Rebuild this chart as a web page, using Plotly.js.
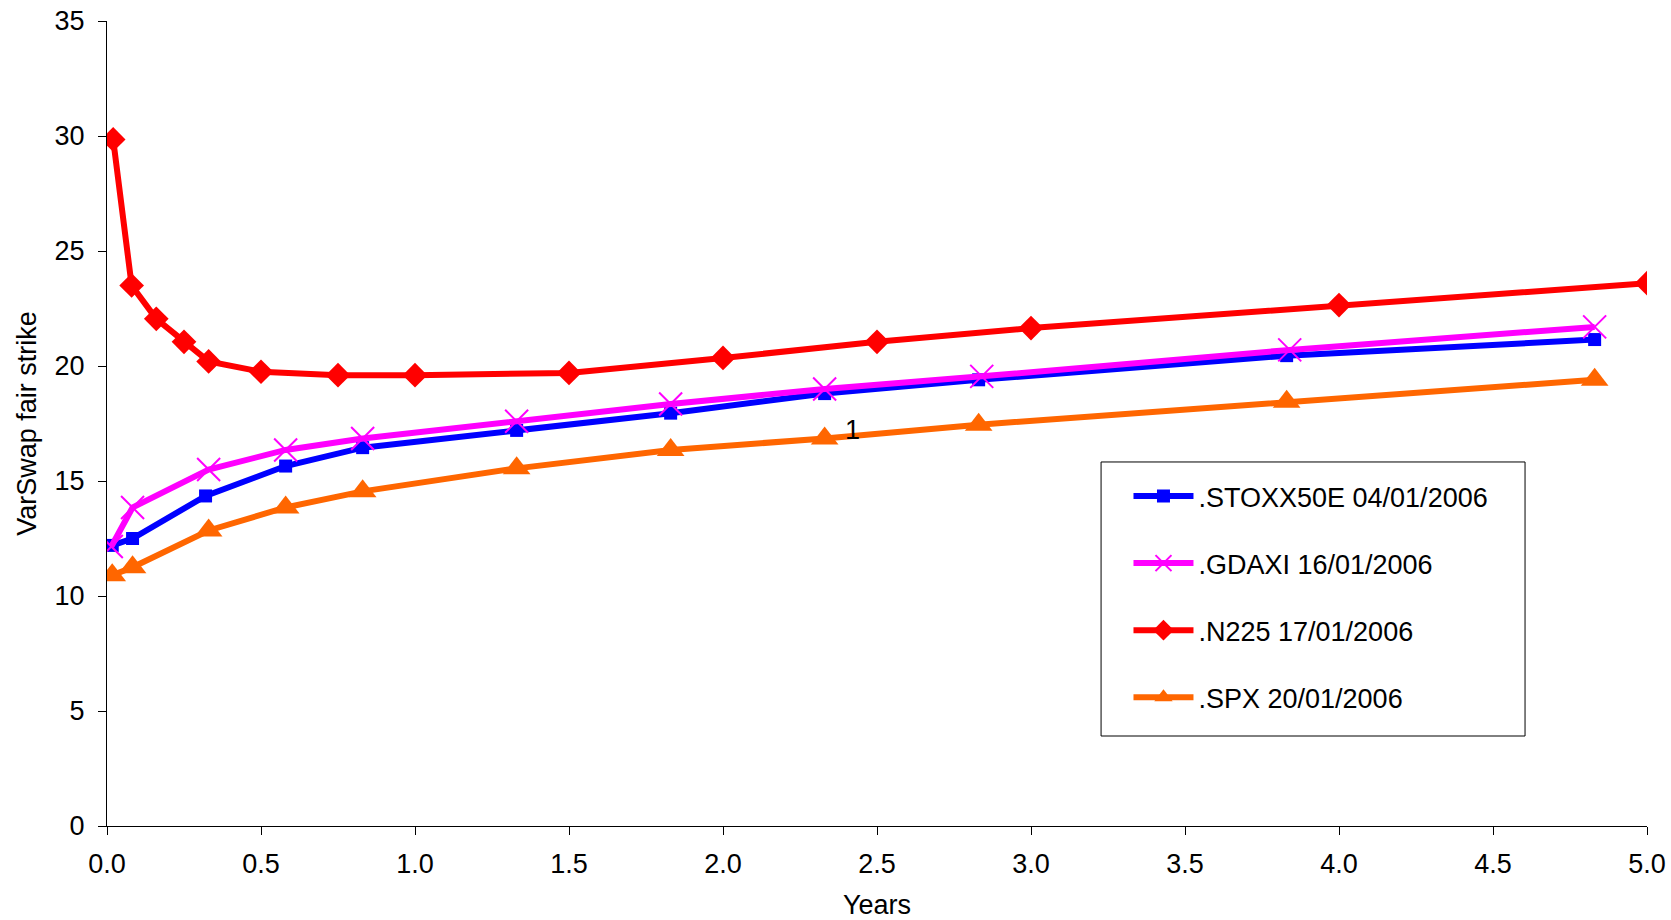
<!DOCTYPE html>
<html>
<head>
<meta charset="utf-8">
<script src="https://cdn.plot.ly/plotly-3.0.1.min.js"></script>
<style>html,body{margin:0;padding:0;background:#fff;}#chart{width:1671px;height:920px;}</style>
</head>
<body>
<div id="chart"></div>
<script>
var stoxxX = [0.017, 0.083, 0.32, 0.58, 0.83, 1.33, 1.83, 2.33, 2.83, 3.83, 4.83];
var stoxxY = [12.2, 12.5, 14.35, 15.65, 16.45, 17.2, 17.95, 18.8, 19.4, 20.45, 21.15];
var gdaxiX = [0.014, 0.083, 0.33, 0.58, 0.83, 1.33, 1.83, 2.33, 2.84, 3.84, 4.83];
var gdaxiY = [12.15, 13.85, 15.5, 16.35, 16.85, 17.6, 18.35, 19.0, 19.55, 20.7, 21.7];
var n225X = [0.02, 0.08, 0.16, 0.25, 0.33, 0.5, 0.75, 1.0, 1.5, 2.0, 2.5, 3.0, 4.0, 5.0];
var n225Y = [29.85, 23.5, 22.05, 21.05, 20.2, 19.75, 19.6, 19.6, 19.7, 20.35, 21.05, 21.65, 22.65, 23.6];
var spxX = [0.017, 0.083, 0.33, 0.58, 0.83, 1.33, 1.83, 2.33, 2.83, 3.83, 4.83];
var spxY = [10.9, 11.25, 12.85, 13.85, 14.55, 15.55, 16.35, 16.85, 17.45, 18.45, 19.4];
var seriesNames = ['.STOXX50E 04/01/2006', '.GDAXI 16/01/2006', '.N225 17/01/2006', '.SPX 20/01/2006'];
var xTitle = 'Years';
var yTitle = 'VarSwap fair strike';
var noteText = '1';
var noteX = 2.42, noteY = 17.2;

var font = 'Liberation Sans, Arial, sans-serif';
var traces = [
  {x: stoxxX, y: stoxxY, name: seriesNames[0], mode: 'lines+markers', legendgroup: 'a',
   line: {color: '#0000FF', width: 6}, marker: {symbol: 'square', size: 13, color: '#0000FF'}},
  {x: gdaxiX, y: gdaxiY, name: seriesNames[1], mode: 'lines+markers', legendgroup: 'b',
   line: {color: '#FF00FF', width: 6}, marker: {symbol: 'x-thin', size: 23, color: '#FF00FF', line: {color: '#FF00FF', width: 2}}},
  {x: n225X, y: n225Y, name: seriesNames[2], mode: 'lines+markers', legendgroup: 'c',
   line: {color: '#FF0000', width: 6}, marker: {symbol: 'diamond', size: 19, color: '#FF0000'}},
  {x: spxX, y: spxY, name: seriesNames[3], mode: 'lines+markers', legendgroup: 'd',
   line: {color: '#FF6600', width: 6}, marker: {symbol: 'triangle-up', size: 24, color: '#FF6600'}}
];

var layout = {
  width: 1671, height: 920,
  paper_bgcolor: '#fff', plot_bgcolor: '#fff',
  margin: {l: 107, r: 24, t: 21, b: 94},
  font: {family: font, size: 27, color: '#000'},
  showlegend: true,
  legend: {x: 0.6633, y: 0.4398, xanchor: 'left', yanchor: 'top',
    borderwidth: 0, bgcolor: 'rgba(0,0,0,0)',
    font: {family: font, size: 27, color: '#000'},
    traceorder: 'grouped', tracegroupgap: 29, itemwidth: 60},
  shapes: [{type: 'rect', xref: 'paper', yref: 'paper', x0: 0.6455, x1: 0.9208, y0: 0.1118, y1: 0.4522,
    line: {color: '#000', width: 1}, fillcolor: '#fff', layer: 'below'}],
  xaxis: {range: [0, 5], dtick: 0.5, tick0: 0, tickformat: '.1f',
    showgrid: false, zeroline: false, showline: true, linecolor: '#000', linewidth: 1,
    ticks: 'outside', ticklen: 8, tickcolor: '#000', ticklabelstandoff: 6,
    tickfont: {family: font, size: 27},
    title: {text: xTitle, font: {family: font, size: 27}, standoff: 20}},
  yaxis: {range: [0, 35], dtick: 5, tick0: 0,
    showgrid: false, zeroline: false, showline: true, linecolor: '#000', linewidth: 1,
    ticks: 'outside', ticklen: 8, tickcolor: '#000', ticklabelstandoff: 8,
    tickfont: {family: font, size: 27},
    title: {text: yTitle, font: {family: font, size: 27}, standoff: 10}},
  annotations: [{x: noteX, y: noteY, text: noteText, showarrow: false, xref: 'x', yref: 'y',
    font: {family: font, size: 27, color: '#000'}}]
};

Plotly.newPlot('chart', traces, layout, {displayModeBar: false, staticPlot: true});
</script>
</body>
</html>
